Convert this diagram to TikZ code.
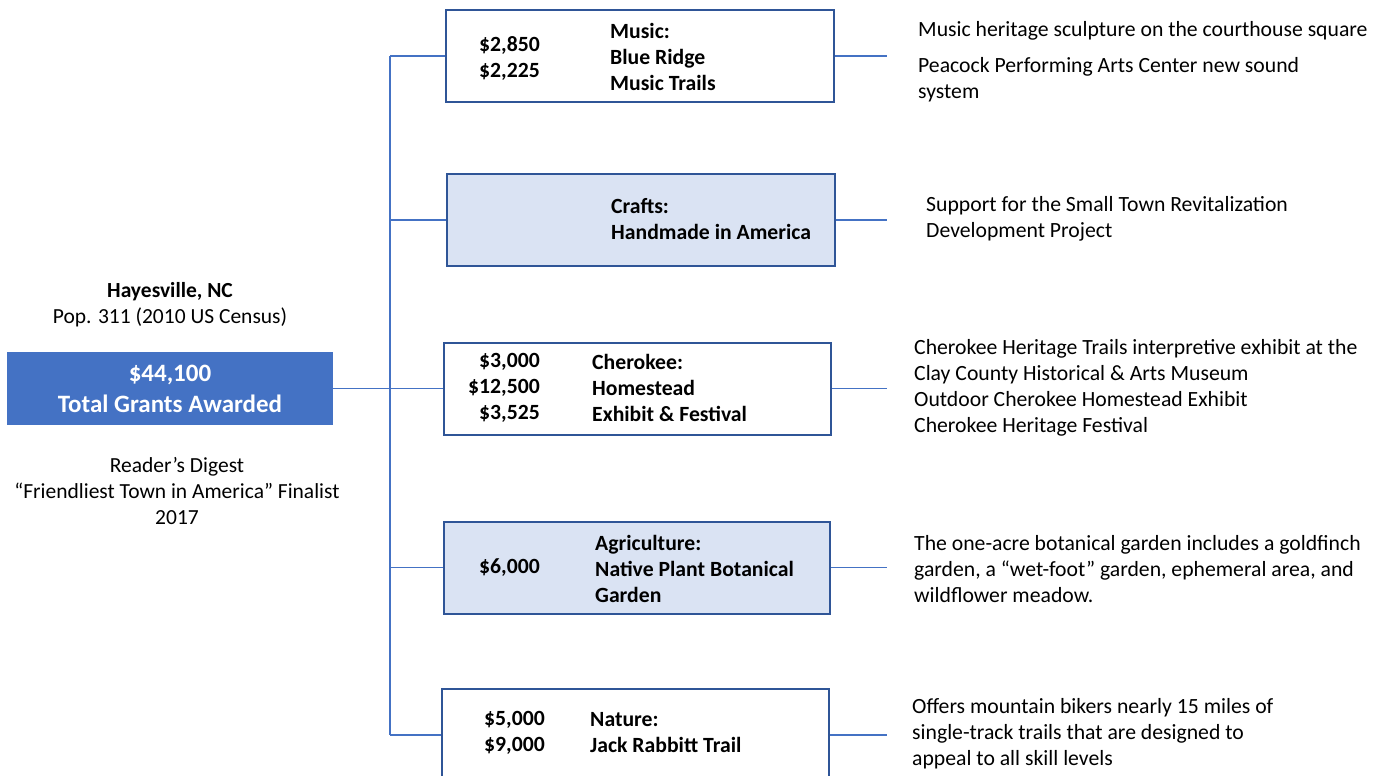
\documentclass[tikz,border=0pt]{standalone}
\usepackage{fontspec}
\setmainfont{Carlito}
\usetikzlibrary{positioning}
\definecolor{accent}{HTML}{4472C4}
\definecolor{edge}{HTML}{2F5597}
\definecolor{pale}{HTML}{DAE3F3}
\tikzset{
  grant/.style={draw=edge,line width=2pt,minimum width=388pt,minimum height=92pt,inner sep=0pt},
  link/.style={draw=accent,line width=1.1pt},
  txt/.style={inner sep=0pt,align=left,anchor=west,font=\fontsize{21.7}{26}\selectfont},
  ttl/.style={txt,font=\bfseries\fontsize{21.7}{26}\selectfont},
  amt/.style={inner sep=0pt,align=right,anchor=east,font=\bfseries\fontsize{21.7}{26}\selectfont},
}
\begin{document}
\begin{tikzpicture}[x=1pt,y=-1pt]
        \useasboundingbox (0,0) rectangle (1385,776);
        % total
        \node[fill=accent,text=white,minimum width=326pt,minimum height=73pt,inner sep=0pt,align=center,
              font=\bfseries\fontsize{25}{31}\selectfont](tot)at(170,388.5){\$44,100\\Total Grants Awarded};
        \node[align=center,inner sep=0pt,font=\fontsize{21.5}{26}\selectfont](town)at(170,305){\textbf{Hayesville, NC}\\Pop. 311 (2010 US Census)};
        \node[align=center,inner sep=0pt,font=\fontsize{21.5}{26}\selectfont](rd)at(177,491){Reader’s Digest\\“Friendliest Town in America” Finalist\\2017};
        % grant boxes
        \node[grant,fill=white](mus)at(640,56){};
        \node[grant,fill=pale](cra)at(640.5,220){};
        \node[grant,fill=white,minimum width=387pt](che)at(637.5,388.5){};
        \node[grant,fill=pale,minimum width=386pt](agr)at(637,567.5){};
        \node[grant,fill=white,minimum width=387pt](nat)at(635.5,735){};
        % box texts
        \node[amt](musa)at(540,58){\$2,850\\\$2,225};
        \node[ttl](must)at(610,57){Music:\\Blue Ridge\\Music Trails};
        \node[ttl](crat)at(611,219.5){Crafts:\\Handmade in America};
        \node[amt](chea)at(540,388){\$3,000\\\$12,500\\\$3,525};
        \node[ttl](chet)at(592,388){Cherokee:\\Homestead\\Exhibit \& Festival};
        \node[amt](agra)at(540,568){\$6,000};
        \node[ttl](agrt)at(595,568.5){Agriculture:\\Native Plant Botanical\\Garden};
        \node[amt](nata)at(545,732.5){\$5,000\\\$9,000};
        \node[ttl](natt)at(590,732.5){Nature:\\Jack Rabbitt Trail};
        % descriptions
        \node[txt](musd)at(918,31){Music heritage sculpture on the courthouse square};
        \node[txt](musp)at(918,80){Peacock Performing Arts Center new sound\\system};
        \node[txt](crad)at(926,219){Support for the Small Town Revitalization\\Development Project};
        \node[txt](ched)at(914,388){Cherokee Heritage Trails interpretive exhibit at the\\Clay County Historical \& Arts Museum\\Outdoor Cherokee Homestead Exhibit\\Cherokee Heritage Festival};
        \node[txt](agrd)at(914,569){The one-acre botanical garden includes a goldfinch\\garden, a “wet-foot” garden, ephemeral area, and\\wildflower meadow.};
        \node[txt](natd)at(912,734){Offers mountain bikers nearly 15 miles of\\single-track trails that are designed to\\appeal to all skill levels};
        % connectors
        \coordinate(trunk)at(390,0);
        \coordinate(rend)at(887,0);
        \draw[link] (mus.west-|trunk)--(nat.west-|trunk);
        \draw[link] (tot.east)--(tot.east-|trunk);
        \foreach \b in {mus,cra,che,agr,nat}{
          \draw[link] (\b.west-|trunk)--(\b.west);
          \draw[link] (\b.east)--(\b.east-|rend);
        }
    \end{tikzpicture}
\end{document}
